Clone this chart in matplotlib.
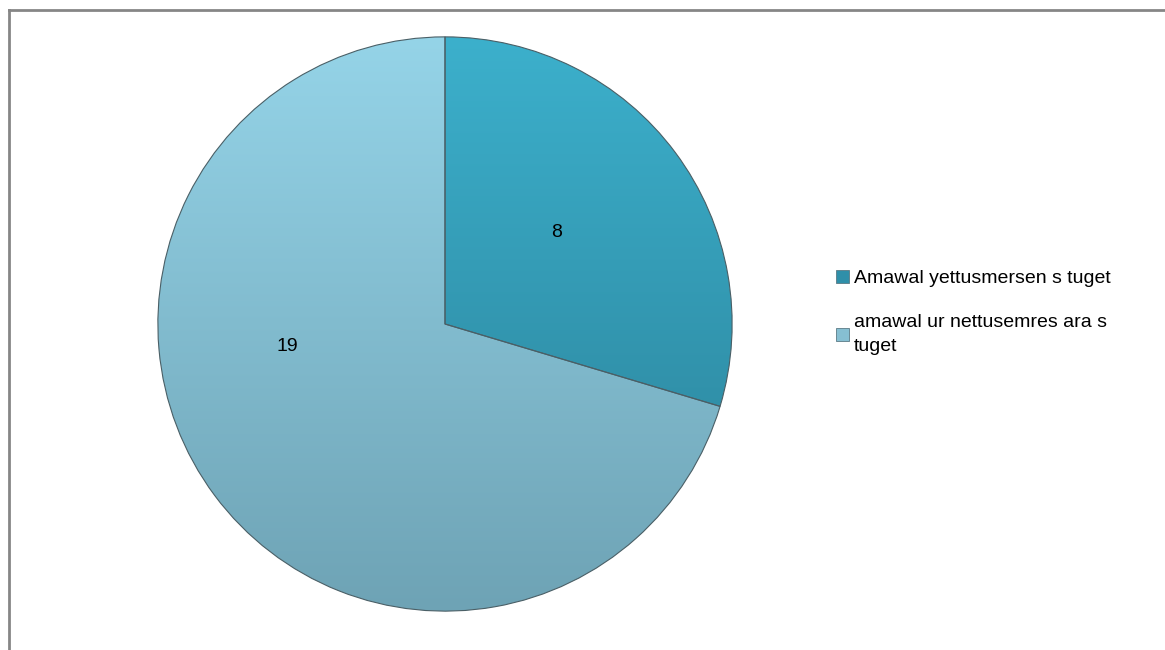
import numpy as np
import matplotlib.pyplot as plt
from matplotlib.patches import Patch
from matplotlib.colors import LinearSegmentedColormap

labels = ['Amawal yettusmersen s tuget', 'amawal ur nettusemres ara s\ntuget']
values = [8, 19]
top_colors = ['#3cb0cc', '#95d4e8']
bottom_colors = ['#2a7f96', '#6ea3b5']
legend_colors = ['#2f8fa9', '#86bfd2']

plt.rcParams['font.family'] = ['Liberation Sans', 'DejaVu Sans']

fig = plt.figure(figsize=(11.65, 6.5), dpi=100)

# frame around the chart area (only left and top visible in the source)
fig.add_artist(plt.Line2D([9/1165, 9/1165], [0, 1 - 10/650], color='#868686', lw=2))
fig.add_artist(plt.Line2D([9/1165, 1], [1 - 10/650, 1 - 10/650], color='#868686', lw=2))

ax = fig.add_axes([155/1165, 36/650, 580/1165, 580/650])
wedges, texts = ax.pie(values, startangle=90, counterclock=False, radius=1,
                       labels=[str(v) for v in values], labeldistance=0.53,
                       textprops={'fontsize': 14, 'color': 'black'},
                       wedgeprops={'edgecolor': '#4a5f66', 'linewidth': 0.8})

# vertical gradient fill clipped to each wedge
grad = np.linspace(1, 0, 256).reshape(-1, 1)
for i, w in enumerate(wedges):
    cmap = LinearSegmentedColormap.from_list('g%d' % i, [bottom_colors[i], top_colors[i]])
    im = ax.imshow(grad, cmap=cmap, extent=(-1, 1, -1, 1), origin='upper',
                   aspect='auto', zorder=w.get_zorder() - 0.1)
    im.set_clip_path(w)
    w.set_facecolor('none')
ax.set_xlim(-1.01, 1.01)
ax.set_ylim(-1.01, 1.01)
ax.set_axis_off()

# manual nudges to match label spots
texts[0].set_position((0.37, 0.32))
texts[1].set_position((-0.51, -0.08))

handles = [Patch(facecolor=c, edgecolor='#5a7a85', linewidth=0.6) for c in legend_colors]
leg = fig.legend(handles, labels, loc='upper left', bbox_to_anchor=(818/1165, 1 - 252/650),
                 frameon=False, fontsize=14, handlelength=0.7, handleheight=0.7,
                 handletextpad=0.25, labelspacing=1.4)
for t in leg.get_texts():
    t.set_linespacing(1.55)

plt.savefig('out.png', dpi=100)
